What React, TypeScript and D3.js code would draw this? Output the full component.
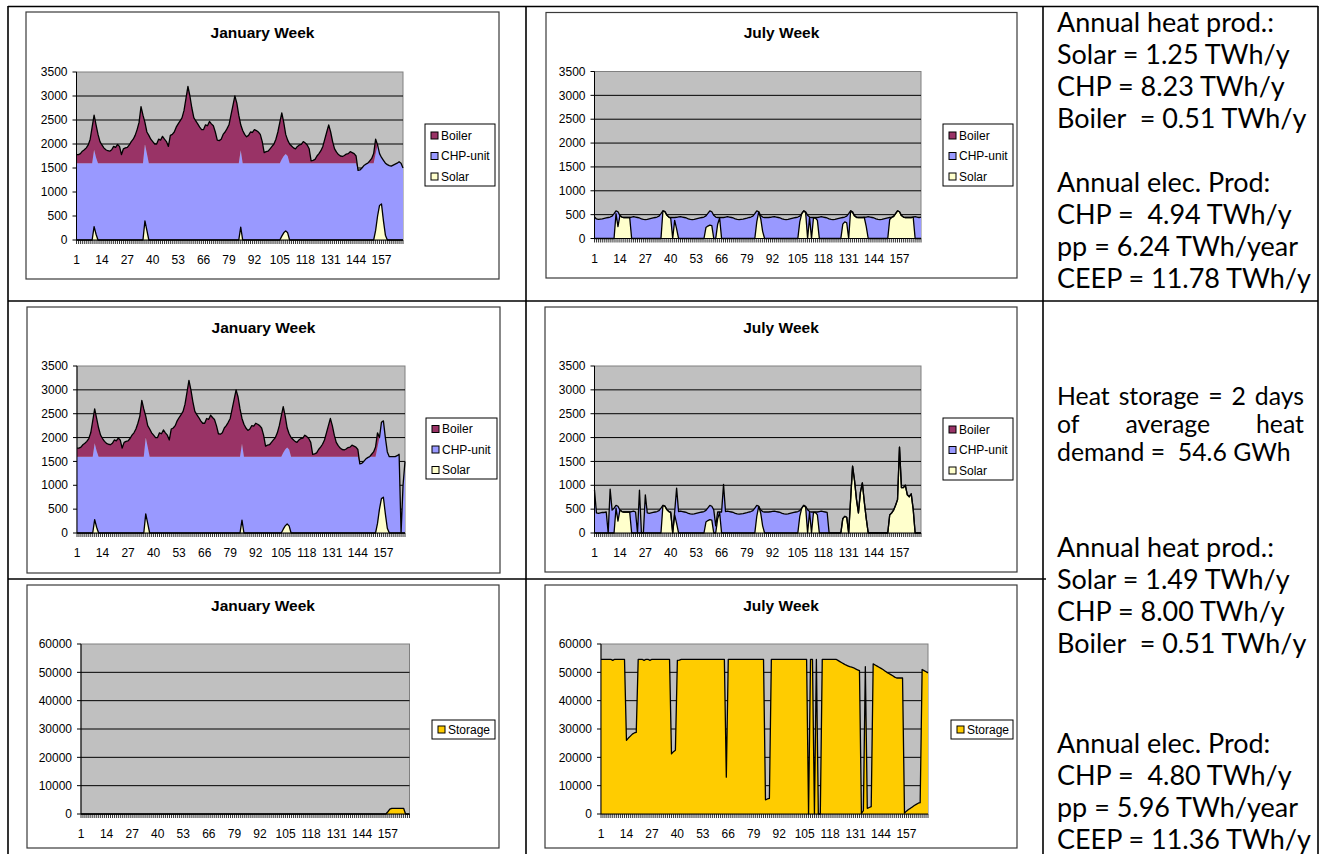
import React, { useMemo } from 'react';
import * as d3 from 'd3';

// ---------------- categories, ticks, legends ----------------
const HOURS: number[] = Array.from({ length: 168 }, (_, i) => i + 1);
const X_TICK_LABELS = [1, 14, 27, 40, 53, 66, 79, 92, 105, 118, 131, 144, 157];
const HEAT_Y_TICKS = [0, 500, 1000, 1500, 2000, 2500, 3000, 3500];
const STORAGE_Y_TICKS = [0, 10000, 20000, 30000, 40000, 50000, 60000];
const HEAT_LEGEND = ['Boiler', 'CHP-unit', 'Solar'];
const STORAGE_LEGEND = ['Storage'];
const HEAT_STACK = ['Solar', 'CHP-unit', 'Boiler'];
const COLORS: Record<string, string> = {
  Boiler: '#993366',
  'CHP-unit': '#9999FF',
  Solar: '#FFFFCC',
  Storage: '#FFCC00',
};

// ---------------- January week (hours 1..168, one row per day) ----------------
const janSolar = [
  0, 0, 0, 0, 0, 0, 0, 0, 0, 280, 120, 0, 0, 0, 0, 0, 0, 0, 0, 0, 0, 0, 0, 0,
  0, 0, 0, 0, 0, 0, 0, 0, 0, 0, 0, 400, 200, 0, 0, 0, 0, 0, 0, 0, 0, 0, 0, 0,
  0, 0, 0, 0, 0, 0, 0, 0, 0, 0, 0, 0, 0, 0, 0, 0, 0, 0, 0, 0, 0, 0, 0, 0,
  0, 0, 0, 0, 0, 0, 0, 0, 0, 0, 0, 0, 270, 0, 0, 0, 0, 0, 0, 0, 0, 0, 0, 0,
  0, 0, 0, 0, 0, 0, 0, 0, 0, 80, 150, 190, 150, 0, 0, 0, 0, 0, 0, 0, 0, 0, 0, 0,
  0, 0, 0, 0, 0, 0, 0, 0, 0, 0, 0, 0, 0, 0, 0, 0, 0, 0, 0, 0, 0, 0, 0, 0,
  0, 0, 0, 0, 0, 0, 0, 0, 0, 200, 500, 720, 750, 400, 100, 0, 0, 0, 0, 0, 0, 0, 0, 0,
];
const janChp = [
  1600, 1600, 1600, 1600, 1600, 1600, 1600, 1600, 1600, 1600, 1600, 1600, 1600, 1600, 1600, 1600, 1600, 1600, 1600, 1600, 1600, 1600, 1600, 1600,
  1600, 1600, 1600, 1600, 1600, 1600, 1600, 1600, 1600, 1600, 1600, 1600, 1600, 1600, 1600, 1600, 1600, 1600, 1600, 1600, 1600, 1600, 1600, 1600,
  1600, 1600, 1600, 1600, 1600, 1600, 1600, 1600, 1600, 1600, 1600, 1600, 1600, 1600, 1600, 1600, 1600, 1600, 1600, 1600, 1600, 1600, 1600, 1600,
  1600, 1600, 1600, 1600, 1600, 1600, 1600, 1600, 1600, 1600, 1600, 1600, 1600, 1600, 1600, 1600, 1600, 1600, 1600, 1600, 1600, 1600, 1600, 1600,
  1600, 1600, 1600, 1600, 1600, 1600, 1600, 1600, 1600, 1600, 1600, 1600, 1600, 1600, 1600, 1600, 1600, 1600, 1600, 1600, 1600, 1600, 1600, 1600,
  1600, 1600, 1600, 1600, 1600, 1600, 1600, 1600, 1600, 1600, 1600, 1600, 1600, 1600, 1600, 1600, 1600, 1600, 1600, 1600, 1600, 1600, 1600, 1600,
  1450, 1460, 1500, 1550, 1580, 1600, 1600, 1600, 1600, 1600, 1480, 1080, 970, 1260, 1500, 1570, 1550, 1540, 1560, 1580, 1600, 1630, 1600, 1500,
];
const janBoiler = [
  180, 180, 200, 250, 280, 320, 380, 500, 750, 720, 680, 600, 450, 380, 320, 280, 260, 250, 280, 350, 330, 390, 350, 180,
  300, 320, 330, 380, 450, 500, 580, 700, 850, 1180, 1000, 450, 450, 580, 500, 450, 400, 400, 500, 480, 560, 500, 450, 350,
  580, 600, 650, 750, 820, 880, 950, 1100, 1350, 1600, 1400, 1150, 950, 880, 820, 750, 700, 700, 800, 780, 870, 820, 780, 650,
  480, 470, 500, 600, 650, 720, 800, 1000, 1200, 1400, 1250, 1000, 530, 680, 600, 550, 580, 650, 640, 700, 680, 650, 600, 450,
  220, 240, 250, 300, 350, 400, 500, 650, 850, 970, 700, 410, 330, 400, 360, 320, 300, 350, 380, 390, 450, 420, 380, 300,
  50, 60, 80, 150, 200, 260, 350, 500, 650, 800, 650, 450, 300, 230, 180, 150, 140, 160, 190, 200, 240, 220, 200, 150,
  0, 0, 0, 0, 0, 0, 50, 100, 200, 300, 0, 0, 0, 0, 0, 0, 0, 0, 0, 0, 0, 0, 0, 0,
];
// January week with heat storage
const janChpStorage = [
  1600, 1600, 1600, 1600, 1600, 1600, 1600, 1600, 1600, 1600, 1600, 1600, 1600, 1600, 1600, 1600, 1600, 1600, 1600, 1600, 1600, 1600, 1600, 1600,
  1600, 1600, 1600, 1600, 1600, 1600, 1600, 1600, 1600, 1600, 1600, 1600, 1600, 1600, 1600, 1600, 1600, 1600, 1600, 1600, 1600, 1600, 1600, 1600,
  1600, 1600, 1600, 1600, 1600, 1600, 1600, 1600, 1600, 1600, 1600, 1600, 1600, 1600, 1600, 1600, 1600, 1600, 1600, 1600, 1600, 1600, 1600, 1600,
  1600, 1600, 1600, 1600, 1600, 1600, 1600, 1600, 1600, 1600, 1600, 1600, 1600, 1600, 1600, 1600, 1600, 1600, 1600, 1600, 1600, 1600, 1600, 1600,
  1600, 1600, 1600, 1600, 1600, 1600, 1600, 1600, 1600, 1600, 1600, 1600, 1600, 1600, 1600, 1600, 1600, 1600, 1600, 1600, 1600, 1600, 1600, 1600,
  1600, 1600, 1600, 1600, 1600, 1600, 1600, 1600, 1600, 1600, 1600, 1600, 1600, 1600, 1600, 1600, 1600, 1600, 1600, 1600, 1600, 1600, 1600, 1600,
  1450, 1460, 1500, 1550, 1580, 1600, 1600, 1600, 1600, 1600, 1500, 1600, 1600, 1600, 1600, 1600, 1600, 1600, 1600, 1620, 1650, 0, 1000, 1500,
];
const janStorage = [
  0, 0, 0, 0, 0, 0, 0, 0, 0, 0, 0, 0, 0, 0, 0, 0, 0, 0, 0, 0, 0, 0, 0, 0,
  0, 0, 0, 0, 0, 0, 0, 0, 0, 0, 0, 0, 0, 0, 0, 0, 0, 0, 0, 0, 0, 0, 0, 0,
  0, 0, 0, 0, 0, 0, 0, 0, 0, 0, 0, 0, 0, 0, 0, 0, 0, 0, 0, 0, 0, 0, 0, 0,
  0, 0, 0, 0, 0, 0, 0, 0, 0, 0, 0, 0, 0, 0, 0, 0, 0, 0, 0, 0, 0, 0, 0, 0,
  0, 0, 0, 0, 0, 0, 0, 0, 0, 0, 0, 0, 0, 0, 0, 0, 0, 0, 0, 0, 0, 0, 0, 0,
  0, 0, 0, 0, 0, 0, 0, 0, 0, 0, 0, 0, 0, 0, 0, 0, 0, 0, 0, 0, 0, 0, 0, 0,
  0, 0, 0, 0, 0, 0, 0, 0, 0, 0, 0, 0, 800, 1700, 2000, 2000, 2000, 2000, 2000, 2000, 2000, 0, 0, 0,
];

// ---------------- July week ----------------
const julSolar = [
  0, 0, 0, 0, 0, 0, 0, 0, 0, 0, 0, 520, 250, 480, 450, 440, 440, 440, 440, 0, 0, 0, 0, 0,
  0, 0, 0, 0, 0, 0, 0, 0, 0, 0, 0, 580, 565, 490, 450, 420, 0, 380, 200, 0, 0, 0, 0, 0,
  0, 0, 0, 0, 0, 0, 0, 0, 0, 230, 260, 280, 270, 0, 0, 300, 430, 0, 0, 0, 0, 0, 0, 0,
  0, 0, 0, 0, 0, 0, 0, 0, 0, 0, 0, 350, 560, 420, 150, 0, 0, 0, 0, 0, 0, 0, 0, 0,
  0, 0, 0, 0, 0, 0, 0, 0, 0, 350, 520, 580, 540, 0, 440, 0, 430, 430, 380, 0, 0, 0, 0, 0,
  0, 0, 0, 0, 0, 0, 0, 300, 350, 330, 0, 580, 540, 470, 440, 440, 440, 440, 440, 250, 0, 0, 0, 0,
  0, 0, 0, 0, 0, 0, 0, 400, 440, 460, 520, 580, 560, 480, 450, 440, 440, 440, 440, 450, 0, 0, 0, 0,
];
const julChp = [
  450, 410, 400, 405, 410, 420, 430, 440, 450, 470, 520, 60, 310, 0, 0, 0, 0, 0, 0, 450, 460, 450, 440, 430,
  410, 400, 395, 400, 410, 420, 430, 440, 450, 470, 520, 0, 0, 0, 0, 20, 440, 60, 245, 455, 460, 450, 440, 430,
  410, 400, 395, 400, 410, 420, 430, 440, 450, 245, 265, 300, 290, 485, 450, 140, 10, 440, 440, 450, 460, 450, 440, 430,
  410, 400, 395, 400, 405, 415, 425, 440, 450, 470, 520, 230, 0, 60, 300, 440, 440, 440, 445, 455, 460, 450, 440, 430,
  410, 400, 395, 400, 410, 420, 430, 440, 450, 120, 0, 0, 20, 485, 10, 440, 10, 10, 60, 450, 460, 450, 440, 430,
  410, 400, 395, 400, 410, 420, 430, 140, 100, 140, 520, 0, 20, 10, 10, 0, 0, 0, 5, 200, 460, 450, 440, 430,
  410, 400, 395, 400, 410, 420, 430, 40, 10, 10, 0, 0, 0, 0, 0, 0, 0, 0, 0, 0, 460, 450, 440, 450,
];
const julBoiler = [
  0, 0, 0, 0, 0, 0, 0, 0, 0, 0, 0, 0, 0, 0, 0, 0, 0, 0, 0, 0, 0, 0, 0, 0,
  0, 0, 0, 0, 0, 0, 0, 0, 0, 0, 0, 0, 0, 0, 0, 0, 0, 0, 0, 0, 0, 0, 0, 0,
  0, 0, 0, 0, 0, 0, 0, 0, 0, 0, 0, 0, 0, 0, 0, 0, 0, 0, 0, 0, 0, 0, 0, 0,
  0, 0, 0, 0, 0, 0, 0, 0, 0, 0, 0, 0, 0, 0, 0, 0, 0, 0, 0, 0, 0, 0, 0, 0,
  0, 0, 0, 0, 0, 0, 0, 0, 0, 0, 0, 0, 0, 0, 0, 0, 0, 0, 0, 0, 0, 0, 0, 0,
  0, 0, 0, 0, 0, 0, 0, 0, 0, 0, 0, 0, 0, 0, 0, 0, 0, 0, 0, 0, 0, 0, 0, 0,
  0, 0, 0, 0, 0, 0, 0, 0, 0, 0, 0, 0, 0, 0, 0, 0, 0, 0, 0, 0, 0, 0, 0, 0,
];
// July week with heat storage
const julSolarStorage = [
  0, 0, 0, 0, 0, 0, 0, 0, 0, 0, 0, 520, 250, 480, 450, 440, 440, 440, 440, 0, 0, 0, 0, 0,
  0, 0, 0, 0, 0, 0, 0, 0, 0, 0, 0, 580, 565, 490, 450, 420, 0, 380, 200, 0, 0, 0, 0, 0,
  0, 0, 0, 0, 0, 0, 0, 0, 0, 230, 260, 280, 270, 0, 0, 300, 430, 0, 0, 0, 0, 0, 0, 0,
  0, 0, 0, 0, 0, 0, 0, 0, 0, 0, 0, 350, 560, 420, 150, 0, 0, 0, 0, 0, 0, 0, 0, 0,
  0, 0, 0, 0, 0, 0, 0, 0, 0, 350, 520, 580, 540, 0, 440, 0, 430, 430, 380, 0, 0, 0, 0, 0,
  0, 0, 0, 0, 0, 0, 0, 300, 350, 330, 0, 700, 1400, 1100, 700, 420, 850, 1050, 650, 300, 0, 0, 0, 0,
  0, 0, 0, 0, 0, 0, 0, 380, 420, 480, 580, 700, 1800, 950, 950, 1000, 800, 760, 820, 500, 0, 0, 0, 0,
];
const julChpStorage = [
  900, 420, 410, 420, 430, 430, 440, 0, 920, 480, 520, 60, 310, 0, 0, 0, 0, 0, 0, 450, 460, 440, 0, 900,
  0, 0, 800, 420, 410, 420, 430, 440, 450, 470, 520, 0, 0, 0, 0, 20, 0, 60, 740, 450, 460, 450, 440, 430,
  410, 400, 395, 400, 410, 420, 430, 440, 450, 245, 265, 300, 290, 485, 150, 140, 10, 440, 1020, 450, 460, 450, 440, 430,
  410, 400, 395, 400, 405, 415, 425, 440, 450, 470, 520, 230, 0, 60, 300, 440, 440, 440, 445, 455, 460, 450, 440, 430,
  410, 400, 395, 400, 410, 420, 430, 440, 450, 120, 0, 0, 20, 485, 10, 440, 10, 10, 60, 450, 460, 450, 440, 430,
  0, 0, 0, 0, 0, 0, 0, 0, 0, 0, 0, 0, 0, 0, 0, 0, 0, 0, 0, 0, 0, 0, 0, 0,
  0, 0, 0, 0, 0, 0, 0, 0, 0, 0, 0, 0, 0, 0, 0, 0, 0, 0, 0, 0, 0, 0, 0, 0,
];
const julStorage = [
  54600, 54600, 54600, 54600, 54600, 54600, 54200, 54600, 54600, 54600, 54600, 54600, 54600, 26000, 26800, 27500, 28200, 28600, 28800, 54600, 54600, 54600, 54200, 54600,
  54600, 54200, 54600, 54600, 54600, 54600, 54600, 54600, 54600, 54600, 54600, 54600, 21200, 22000, 22500, 54200, 54300, 54600, 54600, 54600, 54600, 54600, 54600, 54600,
  54600, 54600, 54600, 54600, 54600, 54600, 54600, 54600, 54600, 54600, 54600, 54600, 54600, 54600, 54600, 54600, 13000, 54600, 54600, 54600, 54600, 54600, 54600, 54600,
  54600, 54600, 54600, 54600, 54600, 54600, 54600, 54600, 54600, 54600, 54600, 54600, 5000, 5300, 5500, 54600, 54600, 54600, 54600, 54600, 54600, 54600, 54600, 54600,
  54600, 54600, 54600, 54600, 54600, 54600, 54600, 54600, 54600, 54600, 0, 54600, 54600, 0, 54600, 0, 0, 54600, 54600, 54600, 54600, 54600, 54600, 54600,
  54600, 54200, 53800, 53400, 53000, 52600, 52300, 52000, 51800, 51600, 51200, 50900, 50600, 200, 1200, 52000, 2000, 2300, 2600, 53000, 52600, 52200, 51800, 51400,
  51000, 50500, 50000, 49600, 49200, 48800, 48300, 48000, 48000, 48000, 48000, 300, 1000, 1600, 2000, 2500, 3000, 3400, 3800, 4000, 51000, 50600, 50200, 49800,
];

// ---------------- text column ----------------
const TEXT_TOP = [
  'Annual heat prod.:', 'Solar = 1.25 TWh/y', 'CHP = 8.23 TWh/y', 'Boiler  = 0.51 TWh/y',
  'Annual elec. Prod:', 'CHP =  4.94 TWh/y', 'pp = 6.24 TWh/year', 'CEEP = 11.78 TWh/y',
];
const STORAGE_NOTE = ['Heat storage = 2 days', 'of average heat', 'demand =  54.6 GWh'];
const TEXT_BOTTOM = [
  'Annual heat prod.:', 'Solar = 1.49 TWh/y', 'CHP = 8.00 TWh/y', 'Boiler  = 0.51 TWh/y',
  'Annual elec. Prod:', 'CHP =  4.80 TWh/y', 'pp = 5.96 TWh/year', 'CEEP = 11.36 TWh/y',
];

// ---------------- layout (pixels) ----------------
type Box = { x0: number; x1: number; y0: number; y1: number };
const CHART_FONT = '"Liberation Sans", Arial, sans-serif';
const TEXT_FONT = 'Lato, "Open Sans", sans-serif';
const TOP_TEXT_Y = [22.5, 54, 86, 118, 182, 214, 246, 278];
const NOTE_Y = [396, 424, 452];
const BOTTOM_TEXT_Y = [547, 579, 611, 643, 743, 775, 807, 839];
const TEXT_X0 = 1057;
const TEXT_X1 = 1304;

function measure(text: string, font: string): number {
  const ctx = document.createElement('canvas').getContext('2d');
  if (!ctx) return text.length * 10;
  ctx.font = font;
  return ctx.measureText(text).width;
}

type PanelProps = {
  frame: Box;
  plot: Box;
  title: string;
  legend: Box;
  legendKeys: string[];
  yTicks: number[];
  stackKeys: string[];
  series: Record<string, number[]>;
  outlineKeys: string[];
};

function ChartPanel({ frame, plot, title, legend, legendKeys, yTicks, stackKeys, series, outlineKeys }: PanelProps) {
  const yMax = yTicks[yTicks.length - 1];
  const x = d3.scalePoint<number>().domain(HOURS).range([plot.x0, plot.x1]);
  const y = d3.scaleLinear().domain([0, yMax]).range([plot.y1, plot.y0]);
  const rows = HOURS.map((h, i) => {
    const r: any = { hour: h };
    stackKeys.forEach((k) => (r[k] = series[k][i]));
    return r;
  });
  const stacked = d3.stack<any>().keys(stackKeys)(rows);
  const area = d3
    .area<any>()
    .x((d) => x(d.data.hour) as number)
    .y0((d) => y(d[0]))
    .y1((d) => y(d[1]));
  const line = d3
    .line<any>()
    .x((d) => x(d.data.hour) as number)
    .y((d) => y(d[1]));
  const n = legendKeys.length;
  const lcy = (legend.y0 + legend.y1) / 2 + (n > 1 ? 1 : 0);
  return (
    <g fontFamily={CHART_FONT}>
      <rect x={frame.x0} y={frame.y0} width={frame.x1 - frame.x0} height={frame.y1 - frame.y0} fill="#fff" stroke="#3a3a3a" strokeWidth={1.2} />
      <text x={(frame.x0 + frame.x1) / 2} y={frame.y0 + 25.5} textAnchor="middle" fontSize={15.5} fontWeight="bold" fill="#000">
        {title}
      </text>
      <rect x={plot.x0} y={plot.y0} width={plot.x1 - plot.x0} height={plot.y1 - plot.y0} fill="#C0C0C0" stroke="#808080" strokeWidth={1} />
      {yTicks
        .filter((t) => t > 0 && t < yMax)
        .map((t) => (
          <line key={t} x1={plot.x0} x2={plot.x1} y1={y(t)} y2={y(t)} stroke="#000" strokeWidth={1} />
        ))}
      {stacked.map((layer) => (
        <path key={layer.key} d={area(layer) || ''} fill={COLORS[layer.key]} stroke="none" />
      ))}
      {stacked
        .filter((layer) => outlineKeys.includes(layer.key))
        .map((layer) => (
          <path key={'o' + layer.key} d={line(layer) || ''} fill="none" stroke="#000" strokeWidth={1.3} strokeLinejoin="round" />
        ))}
      {/* axes */}
      <line x1={plot.x0} x2={plot.x0} y1={plot.y0} y2={plot.y1} stroke="#000" strokeWidth={1} />
      <line x1={plot.x0} x2={plot.x1} y1={plot.y1} y2={plot.y1} stroke="#000" strokeWidth={1} />
      {yTicks.map((t) => (
        <g key={'yt' + t}>
          <line x1={plot.x0 - 4} x2={plot.x0} y1={y(t)} y2={y(t)} stroke="#000" strokeWidth={1} />
          <text x={plot.x0 - 9} y={y(t)} dy="0.35em" textAnchor="end" fontSize={12} fill="#000">
            {t}
          </text>
        </g>
      ))}
      {HOURS.map((h) => (
        <line key={'xt' + h} x1={x(h)} x2={x(h)} y1={plot.y1} y2={plot.y1 + 4} stroke="#000" strokeWidth={0.8} />
      ))}
      {X_TICK_LABELS.map((h) => (
        <text key={'xl' + h} x={x(h)} y={plot.y1 + 20} dy="0.35em" textAnchor="middle" fontSize={12} fill="#000">
          {h}
        </text>
      ))}
      {/* legend */}
      <rect x={legend.x0} y={legend.y0} width={legend.x1 - legend.x0} height={legend.y1 - legend.y0} fill="#fff" stroke="#000" strokeWidth={1} />
      {legendKeys.map((k, i) => {
        const cy = lcy + (i - (n - 1) / 2) * 20.5;
        return (
          <g key={'lg' + k}>
            <rect x={legend.x0 + 6} y={cy - 3.5} width={7} height={7} fill={COLORS[k]} stroke="#000" strokeWidth={1} />
            <text x={legend.x0 + 16} y={cy} dy="0.35em" fontSize={12} fill="#000">
              {k}
            </text>
          </g>
        );
      })}
    </g>
  );
}

function TextColumn() {
  const baseSize = 26;
  const fs = useMemo(() => {
    const w = measure('Annual heat prod.:', `${baseSize}px Lato`);
    return w > 0 ? (baseSize * 217) / w : baseSize;
  }, []);
  const noteFs = fs * 0.92;
  const noteFont = `${noteFs}px Lato`;
  const off = fs * 0.36;
  const noteOff = noteFs * 0.36;
  const plain = (lines: string[], ys: number[], key: string) =>
    lines.map((t, i) => (
      <text key={key + i} x={TEXT_X0} y={ys[i] + off} fontSize={fs} fill="#000" style={{ whiteSpace: 'pre' }}>
        {t}
      </text>
    ));
  const justified = (t: string, yc: number, key: string) => {
    const words = t.split(/\s+/);
    const widths = words.map((w) => measure(w, noteFont));
    const total = widths.reduce((a, b) => a + b, 0);
    const gap = (TEXT_X1 - TEXT_X0 - total) / (words.length - 1);
    let cx = TEXT_X0;
    return words.map((w, i) => {
      const el = (
        <text key={key + i} x={cx} y={yc + noteOff} fontSize={noteFs} fill="#000">
          {w}
        </text>
      );
      cx += widths[i] + gap;
      return el;
    });
  };
  return (
    <g fontFamily={TEXT_FONT}>
      {plain(TEXT_TOP, TOP_TEXT_Y, 't')}
      {justified(STORAGE_NOTE[0], NOTE_Y[0], 'n0')}
      {justified(STORAGE_NOTE[1], NOTE_Y[1], 'n1')}
      <text x={TEXT_X0} y={NOTE_Y[2] + noteOff} fontSize={noteFs} fill="#000" style={{ whiteSpace: 'pre' }}>
        {STORAGE_NOTE[2]}
      </text>
      {plain(TEXT_BOTTOM, BOTTOM_TEXT_Y, 'b')}
    </g>
  );
}

export default function App() {
  const heatLayout = {
    legendKeys: HEAT_LEGEND,
    yTicks: HEAT_Y_TICKS,
    stackKeys: HEAT_STACK,
    outlineKeys: ['Solar', 'Boiler'],
  };
  const storageLayout = {
    legendKeys: STORAGE_LEGEND,
    yTicks: STORAGE_Y_TICKS,
    stackKeys: ['Storage'],
    outlineKeys: ['Storage'],
  };
  return (
    <svg width={1325} height={854} style={{ position: 'absolute', left: 0, top: 0, background: '#fff' }}>
      <rect x={0} y={0} width={1325} height={854} fill="#fff" />
      <ChartPanel
        {...heatLayout}
        title="January Week"
        frame={{ x0: 26, x1: 499, y0: 12, y1: 279 }}
        plot={{ x0: 76.5, x1: 403, y0: 72, y1: 240 }}
        legend={{ x0: 425, x1: 495, y0: 124, y1: 186 }}
        series={{ Solar: janSolar, 'CHP-unit': janChp, Boiler: janBoiler }}
      />
      <ChartPanel
        {...heatLayout}
        title="July Week"
        frame={{ x0: 546, x1: 1017, y0: 12.5, y1: 278 }}
        plot={{ x0: 594.5, x1: 921, y0: 71.5, y1: 238.5 }}
        legend={{ x0: 943, x1: 1013, y0: 124, y1: 186 }}
        series={{ Solar: julSolar, 'CHP-unit': julChp, Boiler: julBoiler }}
      />
      <ChartPanel
        {...heatLayout}
        title="January Week"
        frame={{ x0: 27, x1: 500, y0: 307, y1: 573 }}
        plot={{ x0: 77, x1: 405, y0: 366, y1: 533 }}
        legend={{ x0: 426, x1: 497, y0: 418, y1: 479 }}
        series={{ Solar: janSolar, 'CHP-unit': janChpStorage, Boiler: janBoiler }}
      />
      <ChartPanel
        {...heatLayout}
        title="July Week"
        frame={{ x0: 545, x1: 1017, y0: 307, y1: 572 }}
        plot={{ x0: 594.5, x1: 921, y0: 366, y1: 533 }}
        legend={{ x0: 943, x1: 1013, y0: 418, y1: 480 }}
        series={{ Solar: julSolarStorage, 'CHP-unit': julChpStorage, Boiler: julBoiler }}
      />
      <ChartPanel
        {...storageLayout}
        title="January Week"
        frame={{ x0: 27, x1: 499, y0: 585, y1: 848 }}
        plot={{ x0: 81, x1: 409.5, y0: 644, y1: 814 }}
        legend={{ x0: 432, x1: 495, y0: 720, y1: 739 }}
        series={{ Storage: janStorage }}
      />
      <ChartPanel
        {...storageLayout}
        title="July Week"
        frame={{ x0: 545, x1: 1017, y0: 585, y1: 848 }}
        plot={{ x0: 601, x1: 928, y0: 644, y1: 814 }}
        legend={{ x0: 951, x1: 1013, y0: 720, y1: 739 }}
        series={{ Storage: julStorage }}
      />
      <TextColumn />
      {/* table grid */}
      <g stroke="#000" strokeWidth={1.6}>
        <line x1={8} x2={8} y1={6} y2={854} />
        <line x1={526} x2={526} y1={6} y2={854} />
        <line x1={1043} x2={1043} y1={6} y2={854} />
        <line x1={1318} x2={1318} y1={6} y2={854} />
        <line x1={8} x2={1318} y1={6.5} y2={6.5} />
        <line x1={8} x2={1318} y1={301} y2={301} />
        <line x1={8} x2={1046} y1={579} y2={579} />
      </g>
    </svg>
  );
}
